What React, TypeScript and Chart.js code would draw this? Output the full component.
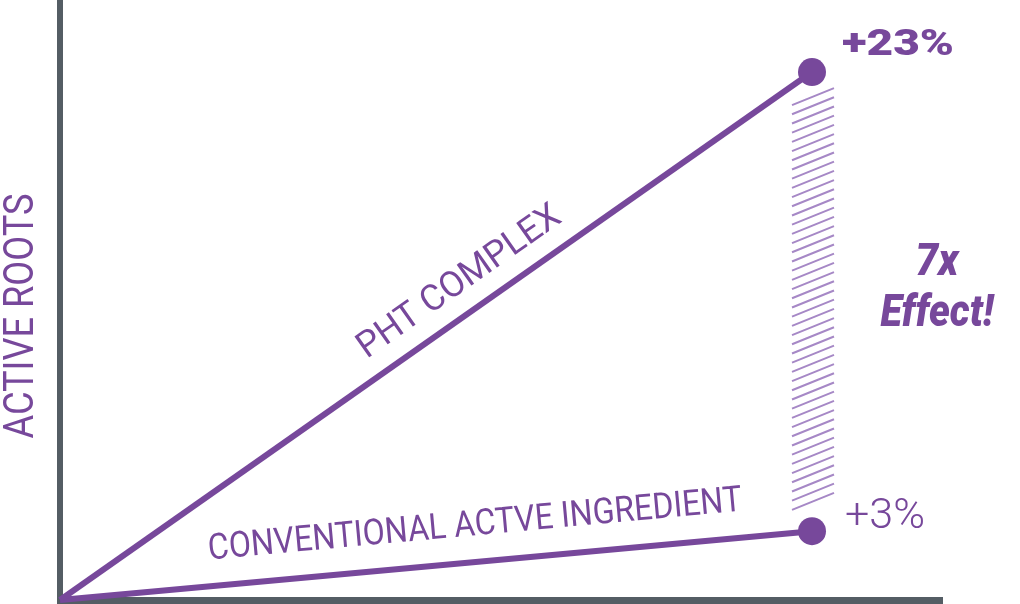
import React, { useEffect, useRef } from "react";
import { Chart, registerables } from "chart.js";

Chart.register(...registerables);

const xValues = [0, 1];
const phtValues = [0, 23];
const conventionalValues = [0, 3];
const seriesNames = ["PHT COMPLEX", "CONVENTIONAL ACTVE INGREDIENT"];
const endLabels = ["+23%", "+3%"];
const axisTitle = "ACTIVE ROOTS";
const effectLines = ["7x", "Effect!"];

const PURPLE = "#77489b";
const HATCH = "#a688c6";
const AXIS = "#545d64";

function fitText(
  ctx: CanvasRenderingContext2D,
  text: string,
  x: number,
  y: number,
  width: number,
  font: string,
  angle: number,
  color: string
) {
  ctx.save();
  ctx.font = font;
  ctx.fillStyle = color;
  ctx.textAlign = "center";
  ctx.textBaseline = "alphabetic";
  const m = ctx.measureText(text).width;
  ctx.translate(x, y);
  ctx.rotate(angle);
  ctx.scale(width / m, 1);
  ctx.fillText(text, 0, 0);
  ctx.restore();
}

const decorPlugin = {
  id: "decor",
  beforeDatasetsDraw(chart: any) {
    const { ctx, chartArea, scales } = chart;
    const xs = scales.x;
    const ys = scales.y;
    // axes
    ctx.save();
    ctx.fillStyle = AXIS;
    ctx.fillRect(chartArea.left - 3, 0, 6, chart.height);
    ctx.fillRect(chartArea.left - 3, chartArea.bottom - 3, chartArea.right - chartArea.left + 3, 7);
    // hatch
    const px = xs.getPixelForValue(xValues[1]);
    const yTop = ys.getPixelForValue(phtValues[1]) + 33;
    const yBot = ys.getPixelForValue(conventionalValues[1]) - 13;
    const x0 = px - 20;
    const x1 = px + 22;
    ctx.strokeStyle = HATCH;
    ctx.lineWidth = 2;
    ctx.beginPath();
    for (let y = yTop; y <= yBot + 0.5; y += 9.2) {
      ctx.moveTo(x0, y);
      ctx.lineTo(x1, y - 17);
    }
    ctx.stroke();
    ctx.restore();
  },
  afterDatasetsDraw(chart: any) {
    const { ctx, scales } = chart;
    const xs = scales.x;
    const ys = scales.y;
    const ox = xs.getPixelForValue(xValues[0]);
    const oy = ys.getPixelForValue(0);
    const px = xs.getPixelForValue(xValues[1]);
    const py1 = ys.getPixelForValue(phtValues[1]);
    const py2 = ys.getPixelForValue(conventionalValues[1]);
    const a1 = Math.atan2(py1 - oy, px - ox);
    const a2 = Math.atan2(py2 - oy, px - ox);

    fitText(ctx, seriesNames[0], 465, 290, 240, "400 36px Roboto, 'DejaVu Sans', sans-serif", a1, PURPLE);
    fitText(ctx, seriesNames[1], 476, 535, 536, "400 36px Roboto, 'DejaVu Sans', sans-serif", a2, PURPLE);

    fitText(ctx, endLabels[0], 898, 55, 112, "900 36px Roboto, 'DejaVu Sans', sans-serif", 0, PURPLE);
    fitText(ctx, endLabels[1], 885, 528, 80, "300 43px Roboto, 'DejaVu Sans', sans-serif", 0, PURPLE);

    fitText(ctx, effectLines[0], 937, 275, 43, "italic 900 45px Roboto, 'DejaVu Sans', sans-serif", 0, PURPLE);
    fitText(ctx, effectLines[1], 937, 326, 113, "italic 900 45px Roboto, 'DejaVu Sans', sans-serif", 0, PURPLE);

    fitText(ctx, axisTitle, 33, 316, 245, "400 42px Roboto, 'DejaVu Sans', sans-serif", -Math.PI / 2, PURPLE);
  },
};

export default function App() {
  const ref = useRef<HTMLCanvasElement>(null);
  useEffect(() => {
    if (!ref.current) return;
    const chart = new Chart(ref.current, {
      type: "line",
      data: {
        datasets: [
          {
            label: seriesNames[0],
            data: xValues.map((x, i) => ({ x, y: phtValues[i] })),
            borderColor: PURPLE,
            backgroundColor: PURPLE,
            borderWidth: 6,
            pointRadius: [0, 14],
            pointHoverRadius: [0, 14],
            pointBorderWidth: 0,
            clip: false as any,
          },
          {
            label: seriesNames[1],
            data: xValues.map((x, i) => ({ x, y: conventionalValues[i] })),
            borderColor: PURPLE,
            backgroundColor: PURPLE,
            borderWidth: 6,
            pointRadius: [0, 14],
            pointHoverRadius: [0, 14],
            pointBorderWidth: 0,
            clip: false as any,
          },
        ],
      },
      options: {
        responsive: false,
        animation: false,
        layout: { autoPadding: false, padding: { left: 60, right: 77, top: 0, bottom: 4 } },
        plugins: { legend: { display: false }, tooltip: { enabled: false } },
        events: [],
        scales: {
          x: { type: "linear", min: 0, max: 1.1742, display: false },
          y: { type: "linear", min: 0, max: 26.14, display: false },
        },
      },
      plugins: [decorPlugin],
    });
    return () => chart.destroy();
  }, []);
  return (
    <div style={{ position: "fixed", left: 0, top: 0, width: 1020, height: 604, background: "#fff" }}>
      <canvas ref={ref} width={1020} height={604} style={{ display: "block" }} />
    </div>
  );
}
